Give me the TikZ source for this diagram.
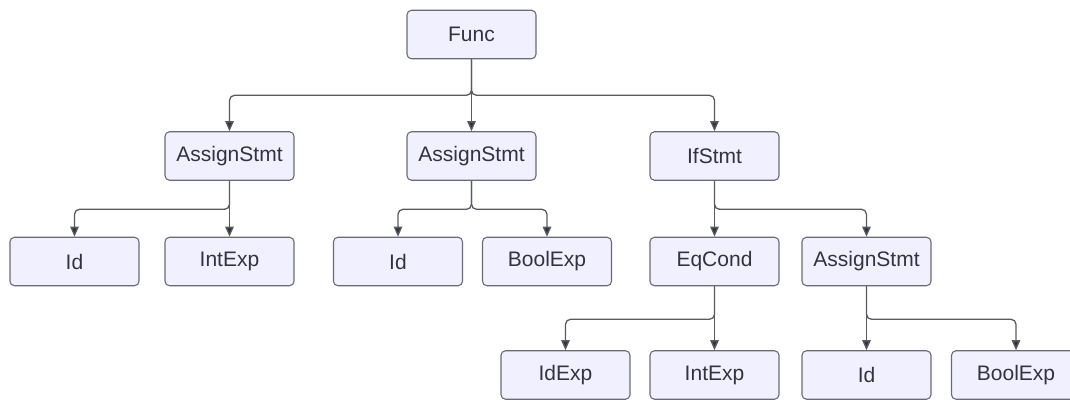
\documentclass[tikz,border=0pt]{standalone}
\usepackage{fontspec}
\setmainfont{Liberation Sans}
\usetikzlibrary{arrows.meta}
\definecolor{boxfill}{HTML}{F0F0FF}
\definecolor{boxdraw}{HTML}{6B6B75}
\definecolor{txt}{HTML}{333340}
\definecolor{edge}{HTML}{5A5A62}
\begin{document}
\begin{tikzpicture}[x=1pt,y=-1pt,
  box/.style={draw=boxdraw, fill=boxfill, line width=1.1pt, rounded corners=4.5pt,
    minimum width=129pt, minimum height=48.5pt, inner sep=0pt,
    text=txt, font=\fontsize{21}{25}\selectfont},
  link/.style={draw=edge, line width=1.3pt, rounded corners=5pt,
    -{Triangle[length=10pt,width=8.5pt,fill=txt]}}]
\useasboundingbox (0,0) rectangle (1070,399);
\begin{scope}
\clip (0,0) rectangle (1070,399);
% nodes, row by row
\node[box] (func) at (471.5,34.5) {Func};
\node[box] (as1) at (229.5,156) {AssignStmt};
\node[box] (as2) at (471.5,156) {AssignStmt};
\node[box] (ifs) at (714.5,156) {IfStmt};
\node[box] (id1) at (74.5,261.5) {Id};
\node[box] (int1) at (229.5,261.5) {IntExp};
\node[box] (id2) at (398,261.5) {Id};
\node[box] (bool1) at (547,261.5) {BoolExp};
\node[box] (eq) at (714.5,261.5) {EqCond};
\node[box] (as3) at (866.5,261.5) {AssignStmt};
\node[box] (idexp) at (565.5,375) {IdExp};
\node[box] (int2) at (714.5,375) {IntExp};
\node[box] (id3) at (866.5,375) {Id};
\node[box] (bool2) at (1016,375) {BoolExp};
% edges: down to a bus, across, then down into the child
\draw[link] (func.south) -- ++(0,36) -| (as1.north);
\draw[link] (func.south) -- (as2.north);
\draw[link] (func.south) -- ++(0,36) -| (ifs.north);
\draw[link] (as1.south) -- ++(0,28.5) -| (id1.north);
\draw[link] (as1.south) -- (int1.north);
\draw[link] (as2.south) -- ++(0,28.5) -| (id2.north);
\draw[link] (as2.south) -- ++(0,28.5) -| (bool1.north);
\draw[link] (ifs.south) -- (eq.north);
\draw[link] (ifs.south) -- ++(0,28.5) -| (as3.north);
\draw[link] (eq.south) -- ++(0,33) -| (idexp.north);
\draw[link] (eq.south) -- (int2.north);
\draw[link] (as3.south) -- (id3.north);
\draw[link] (as3.south) -- ++(0,33) -| (bool2.north);
\end{scope}
\end{tikzpicture}
\end{document}
